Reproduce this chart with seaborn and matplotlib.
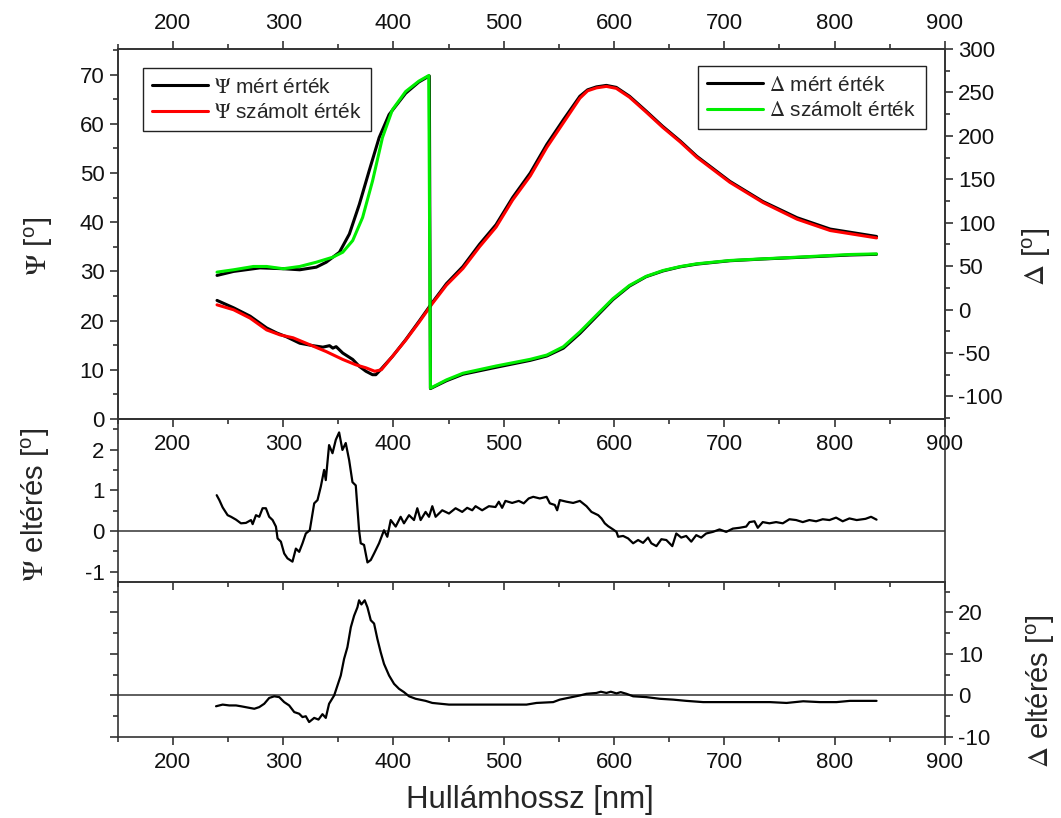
import matplotlib
matplotlib.use("Agg")
import matplotlib.pyplot as plt
import seaborn as sns
from matplotlib.ticker import MultipleLocator

# --- data ------------------------------------------------------------------
# top panel, left axis: Psi (measured / fitted)
psi_meas_wl = [240, 255, 270, 285, 294, 303, 315, 327, 336, 342, 345, 348, 354,
               363, 369, 375, 381, 384, 387, 399, 411, 423, 435, 448, 463, 478,
               493, 508, 524, 539, 554, 569, 576, 584, 593, 602, 614, 629, 644,
               660, 675, 705, 735, 766, 796, 838]
psi_meas = [24.1, 22.6, 20.9, 18.5, 17.5, 16.7, 15.4, 14.9, 14.6, 14.9, 14.4, 14.7,
            13.4, 12.1, 10.7, 9.7, 9.0, 9.0, 9.7, 12.7, 16.1, 19.8, 23.6, 27.5,
            31.0, 35.5, 39.5, 45.0, 50.0, 55.8, 60.8, 65.6, 66.9, 67.5, 67.8,
            67.4, 65.6, 62.6, 59.5, 56.5, 53.4, 48.3, 44.2, 40.9, 38.6, 37.1]
psi_calc_wl = [240, 255, 270, 285, 297, 309, 324, 339, 354, 366, 375, 383, 389,
               399, 411, 423, 435, 448, 463, 478, 493, 508, 524, 539, 554, 569,
               576, 584, 593, 602, 614, 629, 644, 660, 675, 705, 735, 766, 796, 838]
psi_calc = [23.2, 22.2, 20.5, 18.1, 17.1, 16.5, 15.1, 13.7, 12.1, 11.0, 10.4, 9.7,
            10.0, 12.7, 16.0, 19.6, 23.4, 27.2, 30.6, 35.0, 39.0, 44.5, 49.4,
            55.2, 60.2, 65.2, 66.7, 67.3, 67.6, 67.2, 65.4, 62.4, 59.3, 56.3,
            53.2, 48.1, 44.0, 40.6, 38.3, 36.8]

# top panel, right axis: Delta (measured / fitted)
delta_meas_wl = [240, 255, 279, 300, 315, 330, 339, 351, 360, 369, 378, 387, 396,
                 411, 423, 432.5, 433.5, 448, 463, 493, 524, 539, 554, 569, 584,
                 599, 614, 629, 644.5, 660, 675, 705, 735, 766, 814, 838]
delta_meas = [39.3, 43.9, 48.0, 47.0, 45.8, 48.8, 54.5, 66.0, 87.0, 121.0, 160.0,
              198.0, 224.5, 249.0, 262.0, 269.0, -91.0, -82.0, -74.5, -66.5,
              -58.5, -53.5, -44.5, -27.5, -8.0, 11.5, 27.0, 37.8, 44.5, 49.2,
              52.3, 56.2, 58.2, 60.0, 62.8, 63.6]
delta_calc_wl = [240, 255, 273, 285, 300, 315, 330, 345, 354, 363, 372, 381, 390,
                 399, 411, 423, 432, 433.5, 448, 463, 493, 524, 539, 554, 569,
                 584, 599, 614, 629, 644.5, 660, 675, 705, 735, 766, 814, 838]
delta_calc = [43.1, 45.8, 49.6, 49.6, 47.0, 49.6, 54.5, 60.3, 66.0, 79.4, 106.0,
              148.0, 198.0, 230.0, 251.0, 263.0, 269.5, -90.5, -81.0, -73.3,
              -65.0, -57.3, -52.4, -42.8, -25.7, -6.5, 12.6, 27.8, 38.2, 45.0,
              49.5, 52.7, 56.5, 58.4, 60.3, 63.4, 64.1]

# middle panel: Psi deviation
dpsi_wl = [239.7, 242.1, 245.1, 249.6, 252.7, 257.2, 261.7, 266.2, 270.8, 272.3,
           275.3, 278.3, 281.3, 284.3, 287.3, 290.4, 293.4, 294.9, 297.9, 300.9,
           303.9, 308.4, 311.5, 314.5, 317.5, 320.5, 324.1, 328.1, 331.1, 334.1,
           337.1, 338.6, 341.6, 344.7, 347.7, 350.7, 353.7, 356.7, 359.8, 362.8,
           365.8, 368.8, 370.3, 373.3, 376.4, 379.4, 382.4, 386.9, 391.4, 394.4,
           397.5, 402.0, 406.5, 409.5, 414.1, 418.6, 421.6, 424.6, 429.1, 432.2,
           435.2, 438.2, 444.2, 450.3, 456.3, 462.3, 466.8, 471.4, 474.4, 480.4,
           486.5, 492.5, 495.5, 498.5, 501.5, 507.6, 513.6, 518.1, 522.6, 526.7,
           532.7, 538.8, 541.8, 546.3, 548.4, 550.8, 556.9, 562.9, 569.0, 575.0,
           579.5, 585.6, 588.6, 591.6, 594.6, 599.1, 602.2, 603.7, 608.2, 612.7,
           617.3, 621.8, 626.3, 630.8, 633.8, 638.4, 642.9, 647.4, 652.8, 656.4,
           660.9, 665.4, 670.0, 674.5, 679.0, 683.5, 689.6, 695.6, 701.7, 707.7,
           713.7, 719.8, 722.8, 727.3, 730.3, 734.8, 740.9, 746.9, 753.0, 759.0,
           765.1, 771.1, 777.1, 783.2, 789.2, 795.3, 801.3, 807.3, 813.4, 820.0,
           828.0, 833.0, 838.0]
dpsi = [0.88, 0.76, 0.58, 0.39, 0.35, 0.28, 0.19, 0.20, 0.27, 0.17,
        0.39, 0.35, 0.56, 0.56, 0.35, 0.27, 0.11, -0.18, -0.26, -0.55,
        -0.67, -0.75, -0.43, -0.51, -0.30, -0.06, 0.02, 0.68, 0.76, 1.09,
        1.50, 1.25, 2.11, 1.91, 2.24, 2.42, 1.99, 2.16, 1.74, 1.20,
        1.12, 0.02, -0.30, -0.34, -0.77, -0.71, -0.55, -0.30, 0.02, -0.14,
        0.27, 0.11, 0.35, 0.19, 0.39, 0.27, 0.56, 0.27, 0.47, 0.35,
        0.61, 0.35, 0.51, 0.43, 0.56, 0.47, 0.57, 0.51, 0.61, 0.51,
        0.61, 0.59, 0.72, 0.57, 0.74, 0.69, 0.74, 0.68, 0.80, 0.84,
        0.80, 0.84, 0.68, 0.64, 0.51, 0.76, 0.72, 0.69, 0.74, 0.61,
        0.47, 0.39, 0.31, 0.19, 0.12, 0.04, -0.02, -0.14, -0.12, -0.18,
        -0.30, -0.22, -0.29, -0.16, -0.30, -0.37, -0.20, -0.22, -0.37, -0.06,
        -0.16, -0.12, -0.26, -0.10, -0.16, -0.06, -0.02, 0.04, -0.02, 0.06,
        0.08, 0.11, 0.22, 0.24, 0.08, 0.22, 0.19, 0.22, 0.19, 0.29,
        0.27, 0.22, 0.27, 0.24, 0.29, 0.27, 0.33, 0.24, 0.31, 0.27,
        0.30, 0.35, 0.28]

# bottom panel: Delta deviation
ddelta_wl = [239.1, 245.1, 251.1, 257.2, 261.7, 267.7, 273.8, 278.3, 282.8, 287.3,
             291.9, 296.4, 300.9, 305.4, 310.0, 314.5, 317.5, 320.5, 323.5, 328.1,
             332.0, 335.6, 338.6, 341.6, 346.2, 349.2, 352.2, 355.2, 358.2, 361.3,
             364.3, 367.3, 368.8, 370.9, 373.9, 376.4, 379.4, 382.4, 385.4, 388.4,
             391.4, 396.0, 400.5, 405.0, 409.5, 414.1, 420.1, 429.1, 435.2, 450.3,
             465.4, 480.4, 495.5, 510.6, 520.6, 529.7, 544.8, 550.8, 559.9, 569.0,
             575.0, 584.0, 588.0, 593.1, 597.0, 602.2, 606.0, 611.2, 617.3, 629.3,
             641.4, 653.5, 665.4, 680.8, 695.9, 711.0, 726.2, 741.3, 756.4, 771.5,
             786.6, 801.7, 813.8, 838.0]
ddelta = [-2.6, -2.2, -2.4, -2.4, -2.6, -2.9, -3.2, -2.8, -2.0, -0.6,
          -0.2, -0.4, -1.6, -2.4, -4.0, -4.4, -5.2, -5.0, -6.4, -5.4,
          -5.8, -4.5, -5.4, -2.0, 0.0, 2.4, 4.8, 8.8, 11.6, 16.4,
          19.2, 21.2, 22.9, 21.9, 22.9, 21.2, 18.1, 17.3, 13.6, 10.4,
          7.6, 4.8, 2.8, 1.6, 0.8, -0.2, -0.8, -1.3, -1.8, -2.2,
          -2.2, -2.2, -2.2, -2.2, -2.2, -1.8, -1.6, -1.0, -0.5, 0.0,
          0.4, 0.6, 0.9, 0.6, 0.9, 0.5, 0.8, 0.4, -0.2, -0.4,
          -0.8, -1.0, -1.3, -1.6, -1.6, -1.6, -1.6, -1.6, -1.8, -1.4,
          -1.6, -1.6, -1.3, -1.3]

XTICKS = [200, 300, 400, 500, 600, 700, 800, 900]

# --- style -----------------------------------------------------------------
sns.set_theme(style="ticks")
plt.rcParams["font.family"] = ["Liberation Sans", "DejaVu Sans"]
plt.rcParams["mathtext.fontset"] = "stix"
plt.rcParams["axes.unicode_minus"] = False

SPINE = "#333333"
TICK_FS = 16
LABEL_FS = 21
DEG = r"[$^{\mathregular{o}}$]"

fig = plt.figure(figsize=(10.61, 8.18), dpi=100)
fig.patch.set_facecolor("white")

ax_top = fig.add_axes([0.111, 0.4878, 0.7796, 0.4523])
ax_mid = fig.add_axes([0.111, 0.2885, 0.7796, 0.1993])
ax_bot = fig.add_axes([0.111, 0.099, 0.7796, 0.1895])
for ax in (ax_mid, ax_bot):
    ax.patch.set_visible(False)


def style_axes(ax):
    for sp in ax.spines.values():
        sp.set_visible(True)
        sp.set_color(SPINE)
        sp.set_linewidth(1.2)
    ax.set_xlim(150, 900)
    ax.xaxis.set_major_locator(MultipleLocator(100))
    ax.xaxis.set_minor_locator(MultipleLocator(50))
    ax.tick_params(which="both", direction="out", color=SPINE, width=1.2,
                   labelsize=TICK_FS, labelcolor="#111111")
    ax.tick_params(which="major", length=6)
    ax.tick_params(which="minor", length=3.5)
    ax.set_xlabel("")
    ax.set_ylabel("")


# --- top panel -------------------------------------------------------------
sns.lineplot(x=psi_meas_wl, y=psi_meas, ax=ax_top, color="black", lw=2.2,
             label=r"$\Psi$ mért érték")
sns.lineplot(x=psi_calc_wl, y=psi_calc, ax=ax_top, color="#ff0000", lw=2.2,
             label=r"$\Psi$ számolt érték")
style_axes(ax_top)
ax_top.set_ylim(0, 75.2)
ax_top.yaxis.set_major_locator(MultipleLocator(10))
ax_top.yaxis.set_minor_locator(MultipleLocator(5))
ax_top.tick_params(axis="x", which="both", top=True, labeltop=True,
                   bottom=True, labelbottom=True, pad=5)
ax_top.set_xticks(XTICKS)
ax_top.tick_params(axis="y", which="both", right=False)
ax_top.legend(loc="upper left", bbox_to_anchor=(0.03, 0.948), fontsize=15,
              frameon=True, fancybox=False, edgecolor="#222222", framealpha=1,
              handlelength=2.7, borderpad=0.45, labelspacing=0.3,
              handletextpad=0.3, borderaxespad=0)

ax_r = ax_top.twinx()
sns.lineplot(x=delta_meas_wl, y=delta_meas, ax=ax_r, color="black", lw=2.2,
             sort=False, label=r"$\Delta$ mért érték")
sns.lineplot(x=delta_calc_wl, y=delta_calc, ax=ax_r, color="#00ee00", lw=2.2,
             sort=False, label=r"$\Delta$ számolt érték")
style_axes(ax_r)
ax_r.set_ylim(-126, 300)
ax_r.yaxis.set_major_locator(MultipleLocator(50))
ax_r.yaxis.set_minor_locator(MultipleLocator(25))
ax_r.tick_params(axis="y", which="both", left=False, labelleft=False,
                 right=True, labelright=True)
ax_r.legend(loc="upper right", bbox_to_anchor=(0.977, 0.953), fontsize=15,
            frameon=True, fancybox=False, edgecolor="#222222", framealpha=1,
            handlelength=2.7, borderpad=0.45, labelspacing=0.3,
            handletextpad=0.3, borderaxespad=0)

# --- middle panel ----------------------------------------------------------
ax_mid.axhline(0, color=SPINE, lw=1.1, zorder=1)
sns.lineplot(x=dpsi_wl, y=dpsi, ax=ax_mid, color="black", lw=1.6)
style_axes(ax_mid)
ax_mid.set_ylim(-1.25, 2.75)
ax_mid.yaxis.set_major_locator(MultipleLocator(1))
ax_mid.yaxis.set_minor_locator(MultipleLocator(0.5))
ax_mid.tick_params(axis="x", which="both", bottom=True, labelbottom=False, top=False)
ax_mid.tick_params(axis="y", which="both", left=True, right=False)

# --- bottom panel ----------------------------------------------------------
ax_bot.axhline(0, color=SPINE, lw=1.1, zorder=1)
sns.lineplot(x=ddelta_wl, y=ddelta, ax=ax_bot, color="black", lw=1.6)
style_axes(ax_bot)
ax_bot.set_ylim(-10, 27.3)
ax_bot.yaxis.set_major_locator(MultipleLocator(10))
ax_bot.yaxis.set_minor_locator(MultipleLocator(5))
ax_bot.set_xticks(XTICKS)
ax_bot.tick_params(axis="x", which="both", bottom=True, labelbottom=True, top=False, pad=5)
ax_bot.tick_params(axis="y", which="both", left=True, labelleft=False,
                   right=True, labelright=True)

# --- axis titles -----------------------------------------------------------
fig.text(38 / 1061, 1 - 246 / 818, r"$\Psi$ " + DEG, rotation=90,
         ha="center", va="center", fontsize=LABEL_FS)
fig.text(1036 / 1061, 1 - 257 / 818, r"$\Delta$ " + DEG, rotation=90,
         ha="center", va="center", fontsize=LABEL_FS)
fig.text(35 / 1061, 1 - 505 / 818, r"$\Psi$ eltérés " + DEG, rotation=90,
         ha="center", va="center", fontsize=LABEL_FS)
fig.text(1040 / 1061, 1 - 691 / 818, r"$\Delta$ eltérés " + DEG, rotation=90,
         ha="center", va="center", fontsize=LABEL_FS)
fig.text(530 / 1061, 1 - 800 / 818, "Hullámhossz [nm]", ha="center", va="center",
         fontsize=22.5)

fig.savefig("out.png", dpi=100, facecolor="white")
